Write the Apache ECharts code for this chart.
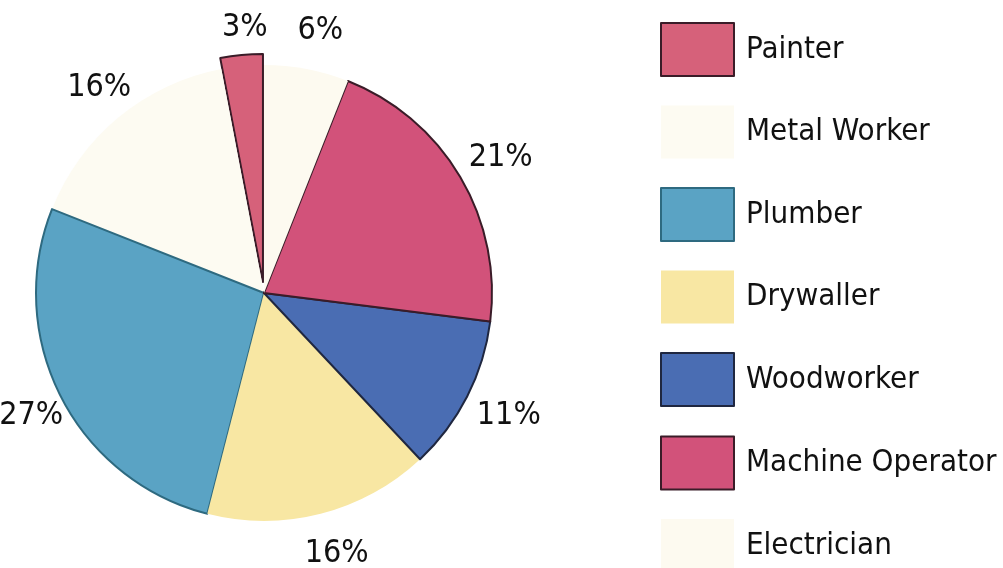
<!DOCTYPE html>
<html>
<head>
<meta charset="utf-8">
<style>
  html, body { margin: 0; padding: 0; background: #ffffff; }
  #chart { width: 1003px; height: 568px; }
</style>
<script src="https://cdn.jsdelivr.net/npm/echarts@6/dist/echarts.min.js"></script>
</head>
<body>
<div id="chart"></div>
<script>
// ---- data ----
const categories = ['Painter', 'Metal Worker', 'Plumber', 'Drywaller', 'Woodworker', 'Machine Operator', 'Electrician'];
const shares = [3, 16, 27, 16, 11, 21, 6];
const fillColors = ['#d6617a', '#fdfbf2', '#5aa3c4', '#f8e7a3', '#4a6db3', '#d2527a', '#fdfaf0'];
const edgeColors = ['#3a1c28', null, '#2e6a80', null, '#1f2740', '#3a1c28', null];
const explodedCategory = 'Painter';

const FONT = '"Liberation Sans Narrow", "DejaVu Sans Condensed", "Roboto Condensed", sans-serif';

const pieData = categories.map((name, i) => ({
  name: name,
  value: shares[i],
  selected: name === explodedCategory,
  itemStyle: {
    color: fillColors[i],
    borderColor: edgeColors[i] || fillColors[i],
    borderWidth: edgeColors[i] ? 2 : 0
  }
}));

const labelData = categories.map((name, i) => ({ name: name, value: shares[i] }));

const chart = echarts.init(document.getElementById('chart'), null, { renderer: 'canvas' });
chart.setOption({
  backgroundColor: '#ffffff',
  animation: false,
  legend: {
    orient: 'vertical',
    left: 660,
    top: 22,
    height: 620,
    padding: 0,
    itemWidth: 73,
    itemHeight: 53,
    itemGap: 28.5,
    icon: 'rect',
    selectedMode: false,
    data: categories,
    textStyle: {
      fontFamily: FONT,
      fontSize: 31,
      color: '#111111',
      padding: [30, 0, 0, 7]
    }
  },
  series: [
    {
      name: 'Trades',
      type: 'pie',
      center: [264, 293],
      radius: 228,
      startAngle: 90,
      clockwise: false,
      selectedMode: 'single',
      selectedOffset: 11,
      label: { show: false },
      labelLine: { show: false },
      emphasis: { disabled: true },
      select: { itemStyle: {} },
      data: pieData
    },
    {
      name: 'Labels',
      type: 'pie',
      center: [270, 294],
      radius: [247, 283],
      startAngle: 90,
      clockwise: false,
      silent: true,
      avoidLabelOverlap: false,
      itemStyle: { color: 'rgba(0,0,0,0)', borderWidth: 0 },
      emphasis: { disabled: true },
      label: {
        show: true,
        position: 'inside',
        rotate: 0,
        formatter: '{c}%',
        fontFamily: FONT,
        fontSize: 32,
        color: '#111111'
      },
      labelLine: { show: false },
      data: labelData
    }
  ]
});
</script>
</body>
</html>
